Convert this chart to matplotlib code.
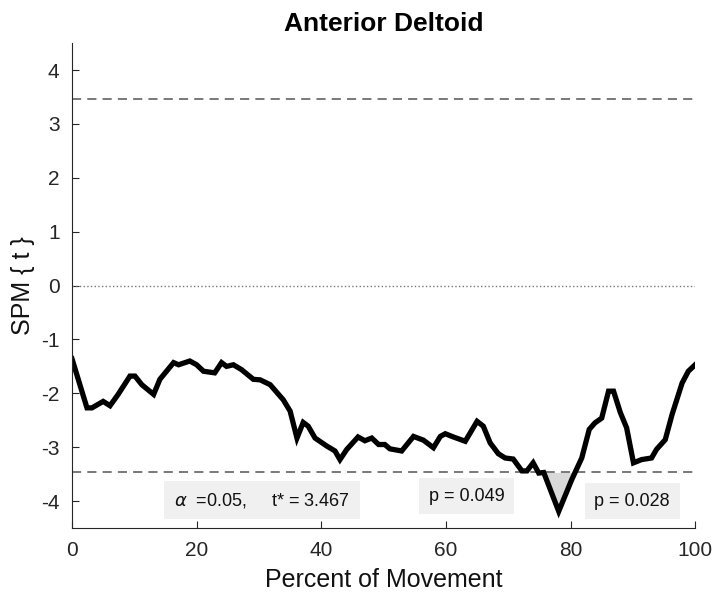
import matplotlib
matplotlib.use("Agg")
import matplotlib.pyplot as plt
import numpy as np

plt.rcParams['font.family'] = ['Liberation Sans', 'DejaVu Sans']
plt.rcParams['axes.unicode_minus'] = False

# SPM{t} Kurve
pct = [0, 2.4, 3.2, 5.0, 6.1, 7.4, 9.3, 10.1, 11.2, 13.1, 14.1, 16.3, 17.1, 18.9,
       20.0, 21.1, 22.9, 24.0, 24.8, 25.9, 27.2, 29.1, 30.2, 31.8, 33.9, 35.0,
       36.1, 37.1, 37.9, 39.0, 40.9, 42.2, 43.0, 44.1, 45.9, 47.0, 48.1, 49.2,
       50.2, 51.0, 52.9, 54.8, 56.4, 58.0, 59.1, 59.9, 61.2, 63.1, 65.0, 66.0,
       67.1, 68.4, 69.5, 70.8, 72.2, 73.0, 74.0, 74.9, 75.7, 78.1, 80.2, 81.8,
       83.0, 83.9, 85.0, 86.1, 86.9, 88.0, 89.0, 90.1, 91.4, 93.0, 93.8, 95.2,
       96.3, 97.9, 98.9, 100]
spm_t = [-1.36, -2.27, -2.27, -2.15, -2.23, -2.02, -1.68, -1.68, -1.84, -2.02,
         -1.74, -1.43, -1.47, -1.40, -1.47, -1.59, -1.62, -1.43, -1.50, -1.47,
         -1.56, -1.74, -1.75, -1.84, -2.12, -2.33, -2.83, -2.54, -2.61, -2.83,
         -2.98, -3.07, -3.23, -3.04, -2.81, -2.88, -2.83, -2.95, -2.95, -3.03,
         -3.07, -2.80, -2.87, -3.01, -2.80, -2.75, -2.81, -2.89, -2.52, -2.61,
         -2.92, -3.12, -3.20, -3.22, -3.44, -3.44, -3.29, -3.48, -3.47, -4.19,
         -3.60, -3.20, -2.67, -2.55, -2.46, -1.96, -1.96, -2.36, -2.64, -3.29,
         -3.23, -3.20, -3.04, -2.86, -2.39, -1.81, -1.59, -1.47]

t_crit = 3.467
labels = ['$\\alpha$  =0.05,     t* = 3.467', 'p = 0.049', 'p = 0.028']
label_x = [30.5, 63.3, 89.9]
label_y = [-3.98, -3.91, -4.0]

x = np.array(pct)
y = np.array(spm_t)

fig = plt.figure(figsize=(7.13, 5.99), dpi=100)
ax = fig.add_axes([0.101, 0.1185, 0.874, 0.8095])

# Ueberschreitung des Schwellenwerts grau fuellen
ax.fill_between(x, y, -t_crit, where=y < -t_crit, interpolate=True,
                color='#d9d9d9', linewidth=0)
ax.axhline(t_crit, color='#555555', linestyle=(0, (6, 4)), linewidth=1.1)
ax.axhline(-t_crit, color='#555555', linestyle=(0, (6, 4)), linewidth=1.1)
ax.axhline(0, color='#777777', linestyle=':', linewidth=1.0)
ax.plot(x, y, color='black', linewidth=3.8, solid_joinstyle='miter')

for txt, tx, ty in zip(labels, label_x, label_y):
    ax.text(tx, ty, txt, ha='center', va='center', fontsize=13, color='#111111',
            bbox=dict(facecolor='#f0f0f0', edgecolor='none', pad=7))

ax.set_xlim(0, 100)
ax.set_ylim(-4.5, 4.5)
ax.set_xticks([0, 20, 40, 60, 80, 100])
ax.set_yticks([-4, -3, -2, -1, 0, 1, 2, 3, 4])
ax.spines['top'].set_visible(False)
ax.spines['right'].set_visible(False)
for s in ['left', 'bottom']:
    ax.spines[s].set_color('#262626')
ax.tick_params(direction='in', length=5, labelsize=15, colors='#262626', pad=9)

ax.set_title('Anterior Deltoid', fontsize=19, fontweight='bold', pad=9)
ax.set_xlabel('Percent of Movement', fontsize=18, color='#111111', labelpad=6)
ax.set_ylabel('SPM { t }', fontsize=18, color='#111111', labelpad=4)

fig.savefig('out.png', dpi=100)
